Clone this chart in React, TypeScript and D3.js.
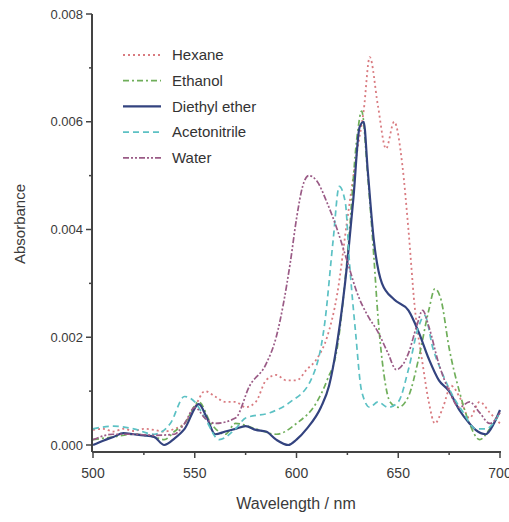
import React from "react";
import * as d3 from "d3";

const hexaneWl = [500, 505, 510, 515, 520, 525, 530, 535, 540, 545, 550, 555, 560, 565, 570, 575, 580, 585, 590, 595, 600, 605, 610, 615, 620, 625, 630, 633, 636, 640, 644, 648, 652, 655, 658, 662, 665, 668, 672, 676, 680, 685, 690, 695, 700];
const hexaneAbs = [0.00028, 0.0003, 0.00025, 0.0003, 0.00026, 0.0003, 0.00028, 0.00025, 0.0003, 0.0004, 0.0007, 0.001, 0.0009, 0.0008, 0.0008, 0.0007, 0.0008, 0.0012, 0.0013, 0.0012, 0.0012, 0.0014, 0.0016, 0.002, 0.0028, 0.0042, 0.0055, 0.0062, 0.0072, 0.0063, 0.0055, 0.006, 0.0052, 0.004, 0.0026, 0.0015, 0.0008, 0.0004, 0.0007, 0.0011, 0.0009, 0.0005, 0.0008, 0.0006, 0.0004];

const ethanolWl = [500, 510, 520, 530, 535, 540, 545, 552, 558, 565, 570, 580, 590, 600, 610, 615, 620, 625, 630, 632, 635, 638, 640, 643, 646, 650, 655, 660, 665, 668, 671, 675, 680, 685, 690, 695, 700];
const ethanolAbs = [0.0001, 0.00015, 0.0002, 0.00015, 0.0001, 0.00025, 0.0004, 0.0008, 0.0004, 0.0002, 0.0004, 0.0003, 0.0002, 0.0004, 0.0008, 0.0012, 0.0018, 0.0035, 0.0058, 0.0062, 0.005, 0.0035, 0.0024, 0.0013, 0.0008, 0.0007, 0.0009, 0.0016, 0.0025, 0.0029, 0.0027, 0.0018, 0.001, 0.0004, 0.0001, 0.0003, 0.0006];

const etherWl = [500, 505, 510, 515, 520, 525, 530, 535, 540, 545, 552, 556, 560, 565, 570, 575, 580, 585, 590, 596, 600, 605, 612, 616, 620, 625, 628, 631, 633, 635, 638, 642, 648, 655, 660, 665, 670, 675, 680, 685, 688, 693, 697, 700];
const etherAbs = [0.0, 0.00008, 0.00015, 0.00022, 0.0002, 0.00018, 0.00015, 0.0, 0.00012, 0.0003, 0.00076, 0.0005, 0.0002, 0.00025, 0.0003, 0.00035, 0.00028, 0.00025, 0.0001, 0.0, 0.0001, 0.0003, 0.0007, 0.0011, 0.0019, 0.0034, 0.0046, 0.0059, 0.006, 0.0051, 0.0038, 0.003, 0.0027, 0.0025, 0.0021, 0.0016, 0.0012, 0.001, 0.00065, 0.0004, 0.00028, 0.0002, 0.0004, 0.00065];

const acetonitrileWl = [500, 510, 520, 530, 538, 545, 550, 555, 562, 570, 575, 587, 597, 607, 614, 618, 621, 624, 626, 629, 632, 636, 640, 645, 650, 655, 660, 663, 667, 672, 677, 682, 688, 693, 700];
const acetonitrileAbs = [0.0003, 0.00035, 0.0003, 0.0002, 0.0004, 0.0009, 0.0008, 0.0005, 0.0001, 0.0003, 0.0005, 0.0006, 0.0008, 0.0012, 0.0023, 0.0038, 0.0048, 0.0045, 0.0034, 0.0021, 0.001, 0.0007, 0.0008, 0.0007, 0.0008, 0.0014, 0.0022, 0.0024, 0.0018, 0.0013, 0.0009, 0.0006, 0.0003, 0.0003, 0.0006];

const waterWl = [500, 510, 520, 530, 540, 545, 550, 555, 560, 570, 577, 585, 590, 597, 600, 603, 606, 610, 615, 620, 625, 630, 635, 640, 645, 649, 655, 659, 662, 665, 670, 675, 680, 685, 690, 695, 700];
const waterAbs = [0.0001, 0.0002, 0.0002, 0.00018, 0.0002, 0.0004, 0.0007, 0.0005, 0.0004, 0.0005, 0.0011, 0.0015, 0.002, 0.0034, 0.0042, 0.0048, 0.005, 0.0049, 0.0045, 0.004, 0.0034, 0.0028, 0.0024, 0.0021, 0.0017, 0.0014, 0.0017, 0.0022, 0.0025, 0.0022, 0.0015, 0.001, 0.0007, 0.0008, 0.0006, 0.0004, 0.0006];

const seriesNames = ["Hexane", "Ethanol", "Diethyl ether", "Acetonitrile", "Water"];
const xTicks = [500, 550, 600, 650, 700];
const yTicks = [0.0, 0.002, 0.004, 0.006, 0.008];

const seriesData = [
  { name: seriesNames[0], wl: hexaneWl, abs: hexaneAbs, color: "#d97b80", dash: "2,3", width: 1.8 },
  { name: seriesNames[1], wl: ethanolWl, abs: ethanolAbs, color: "#6fae5a", dash: "6,3,2,3", width: 1.7 },
  { name: seriesNames[2], wl: etherWl, abs: etherAbs, color: "#33437f", dash: "none", width: 2.2 },
  { name: seriesNames[3], wl: acetonitrileWl, abs: acetonitrileAbs, color: "#5cc1c4", dash: "6,4", width: 1.7 },
  { name: seriesNames[4], wl: waterWl, abs: waterAbs, color: "#9a5b86", dash: "6,2,2,2,2,2", width: 1.7 },
];

export default function App() {
  const W = 509, H = 522;
  const x = d3.scaleLinear().domain([500, 700]).range([93, 500]);
  const y = d3.scaleLinear().domain([0, 0.008]).range([445, 14]);
  const yBottom = 452;
  const line = d3
    .line<[number, number]>()
    .x((d) => x(d[0]))
    .y((d) => y(d[1]))
    .curve(d3.curveMonotoneX);
  const font = "'Liberation Sans', Arial, sans-serif";
  const axisColor = "#444";
  const textColor = "#3a3a3a";
  const minorX = [525, 575, 625, 675];
  const minorY = [0.001, 0.003, 0.005, 0.007];
  const legendY0 = 55;
  const legendStep = 25.7;

  return (
    <svg width={W} height={H} style={{ position: "absolute", left: 0, top: 0, background: "#fff" }}>
      <g>
        {seriesData.map((s) => (
          <path
            key={s.name}
            d={line(s.wl.map((w, i) => [w, s.abs[i]] as [number, number])) || ""}
            fill="none"
            stroke={s.color}
            strokeWidth={s.width}
            strokeDasharray={s.dash}
            strokeLinejoin="round"
          />
        ))}
      </g>
      {/* axes */}
      <line x1={92} x2={92} y1={14} y2={yBottom} stroke={axisColor} strokeWidth={2} />
      <line x1={92} x2={501} y1={yBottom} y2={yBottom} stroke={axisColor} strokeWidth={2} />
      {yTicks.map((t) => (
        <g key={"y" + t}>
          <line x1={86} x2={92} y1={y(t)} y2={y(t)} stroke={axisColor} strokeWidth={1.5} />
          <text x={83} y={y(t)} dy="0.35em" textAnchor="end" fontSize={13} fontFamily={font} fill={textColor}>
            {t.toFixed(3)}
          </text>
        </g>
      ))}
      {minorY.map((t) => (
        <line key={"my" + t} x1={89} x2={92} y1={y(t)} y2={y(t)} stroke={axisColor} strokeWidth={1.5} />
      ))}
      {xTicks.map((t) => (
        <g key={"x" + t}>
          <line x1={x(t)} x2={x(t)} y1={yBottom} y2={yBottom + 6} stroke={axisColor} strokeWidth={1.5} />
          <text x={x(t)} y={yBottom + 21} dy="0.35em" textAnchor="middle" fontSize={14} fontFamily={font} fill={textColor}>
            {t}
          </text>
        </g>
      ))}
      {minorX.map((t) => (
        <line key={"mx" + t} x1={x(t)} x2={x(t)} y1={yBottom} y2={yBottom + 3} stroke={axisColor} strokeWidth={1.5} />
      ))}
      <text x={296} y={503} dy="0.35em" textAnchor="middle" fontSize={16} fontFamily={font} fill={textColor}>
        Wavelength / nm
      </text>
      <text
        transform={`translate(20,224) rotate(-90)`}
        dy="0.35em"
        textAnchor="middle"
        fontSize={15}
        fontFamily={font}
        fill={textColor}
      >
        Absorbance
      </text>
      {/* legend */}
      {seriesData.map((s, i) => (
        <g key={"lg" + s.name}>
          <line
            x1={123}
            x2={161}
            y1={legendY0 + i * legendStep}
            y2={legendY0 + i * legendStep}
            stroke={s.color}
            strokeWidth={s.width}
            strokeDasharray={s.dash}
          />
          <text x={172} y={legendY0 + i * legendStep} dy="0.35em" fontSize={15} fontFamily={font} fill="#333">
            {s.name}
          </text>
        </g>
      ))}
    </svg>
  );
}
